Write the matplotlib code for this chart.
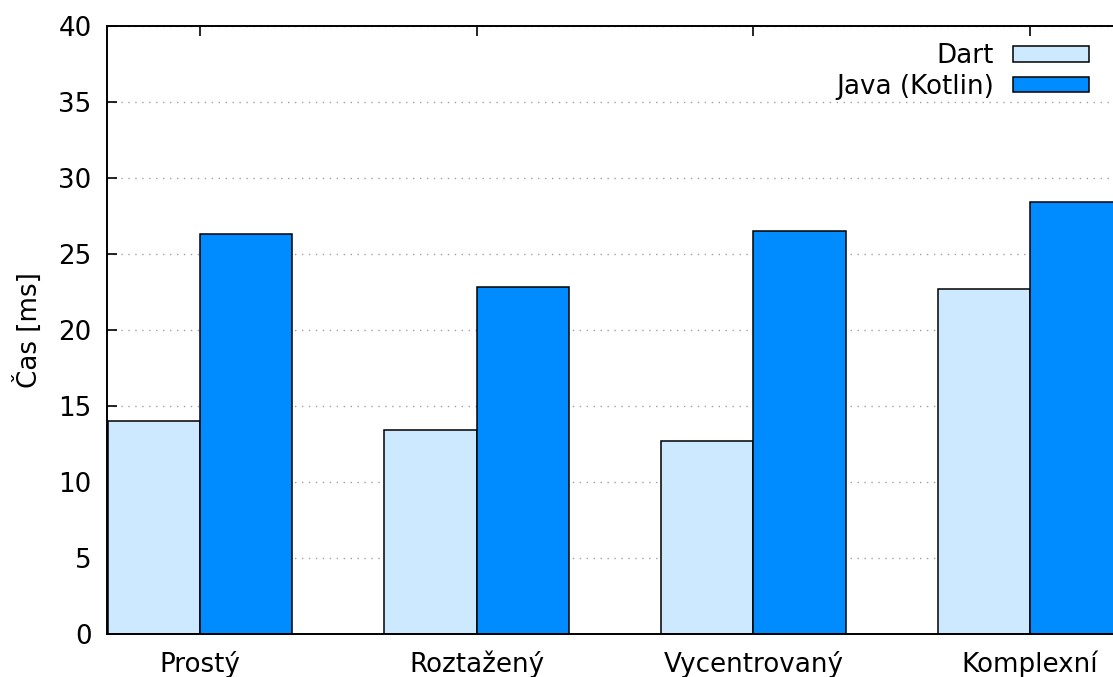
import matplotlib
matplotlib.use("Agg")
import matplotlib.pyplot as plt
import numpy as np

# Layout variants of the benchmarked screen and mean render time per platform
categories = ["Prostý", "Roztažený", "Vycentrovaný", "Komplexní"]
dart_ms = [14.0, 13.4, 12.7, 22.7]
java_ms = [26.3, 22.8, 26.5, 28.4]
series_labels = ["Dart", "Java (Kotlin)"]
y_ticks = [0, 5, 10, 15, 20, 25, 30, 35, 40]

DART_COLOR = "#cce9ff"
JAVA_COLOR = "#008cff"

plt.rcParams["font.family"] = ["DejaVu Sans"]
FS = 18.8

W, H = 1113, 677
fig = plt.figure(figsize=(W / 100, H / 100), dpi=100)
ax = fig.add_axes([107 / W, (H - 634) / H, (1113 - 107) / W, (634 - 26) / H])

x = np.arange(len(categories))
bw = 1 / 3
ax.bar(x - bw, dart_ms, width=bw, align="edge", color=DART_COLOR,
       edgecolor="black", linewidth=1.1, label=series_labels[0], zorder=2)
ax.bar(x, java_ms, width=bw, align="edge", color=JAVA_COLOR,
       edgecolor="black", linewidth=1.1, label=series_labels[1], zorder=2)

ax.set_xlim(-0.336, 3.30)
ax.set_ylim(0, 40)
ax.set_yticks(y_ticks)
ax.set_xticks(x)
ax.set_xticklabels(categories, fontsize=FS)
ax.tick_params(axis="y", direction="in", length=7, width=1.2, pad=11,
               labelsize=FS, right=False)
ax.tick_params(axis="x", direction="in", length=7, width=1.2, pad=12,
               bottom=False, top=True, labelsize=FS)

ax.yaxis.grid(True, linestyle=(0, (1, 4)), color="#a0a0a0", linewidth=1.0, zorder=0)
ax.set_axisbelow(True)

for side in ("left", "top", "bottom"):
    ax.spines[side].set_linewidth(1.4)
ax.spines["right"].set_visible(False)

ax.set_ylabel("Čas [ms]", fontsize=FS, labelpad=11)

leg = ax.legend(loc="upper right", bbox_to_anchor=((1089 - 107) / 1006, 1 - (43 - 26) / 608),
                frameon=False, markerfirst=False, fontsize=FS, borderpad=0,
                borderaxespad=0, handlelength=2.9, handleheight=0.55,
                handletextpad=0.75, labelspacing=0.18)

fig.savefig("out.png", dpi=100)
